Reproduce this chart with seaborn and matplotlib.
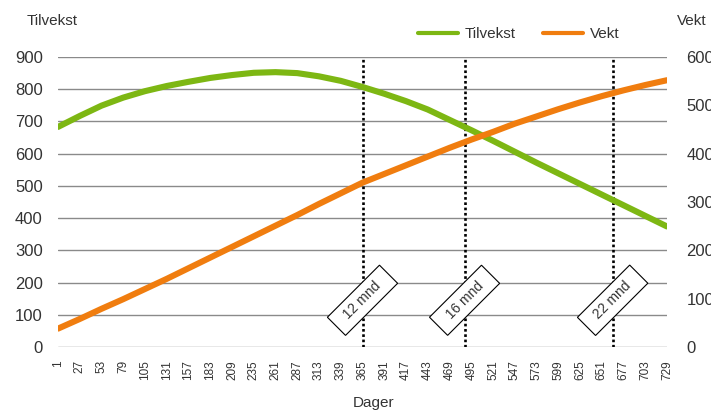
import matplotlib
matplotlib.use("Agg")
import matplotlib.pyplot as plt
import seaborn as sns
import pandas as pd
from matplotlib.lines import Line2D

# ---- data ----
days = [1, 27, 53, 79, 105, 131, 157, 183, 209, 235, 261, 287, 313, 339, 365,
        391, 417, 443, 469, 495, 521, 547, 573, 599, 625, 651, 677, 703, 729]
tilvekst = [683, 717, 749, 774, 794, 810, 823, 835, 844, 851, 853, 850, 840, 826, 807,
            786, 763, 737, 705, 673, 640, 606, 572, 539, 506, 473, 440, 407, 374]
vekt = [38, 58, 79, 99, 120, 141, 163, 185, 207, 229, 251, 273, 296, 318, 340,
        358, 376, 394, 412, 429, 445, 462, 477, 492, 506, 519, 531, 542, 552]
marker_days = [365, 487, 664]
marker_labels = ["12 mnd", "16 mnd", "22 mnd"]
left_ticks = [0, 100, 200, 300, 400, 500, 600, 700, 800, 900]
right_ticks = [0, 100, 200, 300, 400, 500, 600]

df = pd.DataFrame({"Dager": days, "Tilvekst": tilvekst, "Vekt": vekt})

sns.set_theme(style="white")
plt.rcParams["font.family"] = ["Liberation Sans", "DejaVu Sans"]

GREEN = "#7db713"
ORANGE = "#f07d0f"
TXT = "#333333"

W, H = 711, 412
fig = plt.figure(figsize=(W / 100, H / 100), dpi=100)
ax = fig.add_axes([58 / W, 1 - 347 / H, (667 - 58) / W, (347 - 57) / H])
ax2 = ax.twinx()

# dotted month markers
for d in marker_days:
    ax.axvline(d, color="black", lw=1.9, ls=(0, (1, 1)), zorder=1)

sns.lineplot(data=df, x="Dager", y="Tilvekst", ax=ax, color=GREEN, lw=4.4, zorder=2)
sns.lineplot(data=df, x="Dager", y="Vekt", ax=ax2, color=ORANGE, lw=4.4, zorder=2)

for d, lab in zip(marker_days, marker_labels):
    ax.text(d, 145, "  " + lab + "  ", rotation=45, rotation_mode="anchor",
            ha="center", va="center", fontsize=10, color=TXT, zorder=5,
            bbox=dict(boxstyle="square,pad=0.42", fc="white", ec="black", lw=0.8))

ax.set_xlim(1, 729)
ax.set_ylim(0, 900)
ax2.set_ylim(0, 600)
ax.set_xticks(days)
ax.set_xticklabels([str(d) for d in days], rotation=90, fontsize=8.5, color=TXT)
ax.set_yticks(left_ticks)
ax.set_yticklabels([str(v) for v in left_ticks], fontsize=12, color=TXT)
ax2.set_yticks(right_ticks)
ax2.set_yticklabels([str(v) for v in right_ticks], fontsize=12, color=TXT)

ax.grid(axis="y", color="#8a8a8a", lw=1)
ax.grid(axis="x", visible=False)
ax2.grid(False)
ax.set_axisbelow(True)
for a in (ax, ax2):
    for s in a.spines.values():
        s.set_visible(False)
ax.tick_params(axis="x", length=0, pad=9.5)
ax.tick_params(axis="y", length=0, pad=11)
ax2.tick_params(axis="y", length=0, pad=14)
ax.set_xlabel("")
ax.set_ylabel("")
ax2.set_ylabel("")

fig.text(27 / W, 1 - 21 / H, "Tilvekst", fontsize=11, color=TXT, ha="left", va="center")
fig.text(677 / W, 1 - 21 / H, "Vekt", fontsize=11, color=TXT, ha="left", va="center")
fig.text(374 / W, 1 - 403 / H, "Dager", fontsize=11, color=TXT, ha="center", va="center")

handles = [Line2D([], [], color=GREEN, lw=3), Line2D([], [], color=ORANGE, lw=3)]
fig.legend(handles, ["Tilvekst", "Vekt"], loc="center left",
           bbox_to_anchor=(418 / W, 1 - 34 / H), ncol=2, frameon=False,
           fontsize=11, handlelength=2.6, handletextpad=0.45, columnspacing=1.8,
           borderpad=0, borderaxespad=0, labelcolor=TXT)

fig.savefig("out.png", dpi=100)
